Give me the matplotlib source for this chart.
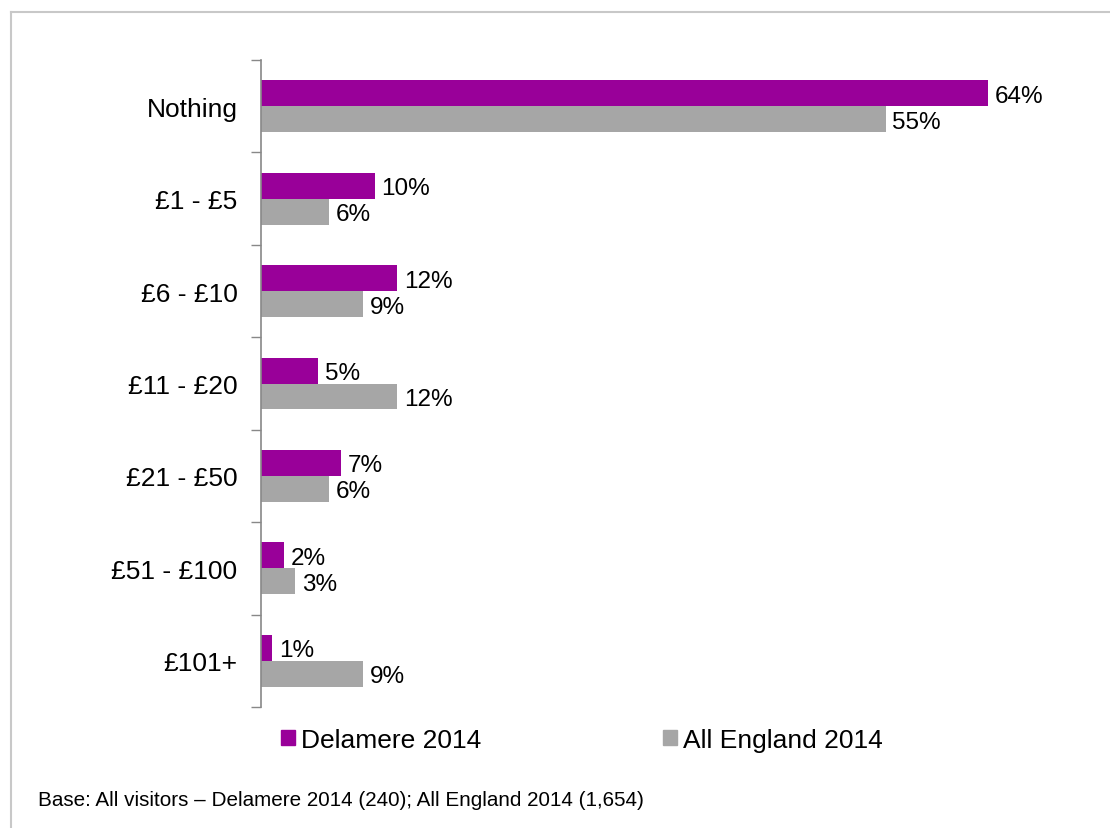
import matplotlib.pyplot as plt
import numpy as np
from matplotlib.lines import Line2D
from matplotlib.patches import Patch

# Spend bands and percentage of visitors in each
categories = ['Nothing', '£1 - £5', '£6 - £10', '£11 - £20', '£21 - £50', '£51 - £100', '£101+']
delamere_2014 = [64, 10, 12, 5, 7, 2, 1]
england_2014 = [55, 6, 9, 12, 6, 3, 9]
series_names = ['Delamere 2014', 'All England 2014']
footnote = 'Base: All visitors \u2013 Delamere 2014 (240); All England 2014 (1,654)'

PURPLE = '#990099'
GREY = '#a6a6a6'

plt.rcParams['font.family'] = ['Liberation Sans', 'DejaVu Sans']

W, H = 1110, 829
fig = plt.figure(figsize=(W / 100, H / 100), dpi=100)
ax = fig.add_axes([261 / W, 1 - 708 / H, (1056 - 261) / W, (708 - 61) / H])

y = np.arange(len(categories))
bar_h = 0.28
ax.barh(y - bar_h / 2, delamere_2014, height=bar_h, color=PURPLE, label=series_names[0])
ax.barh(y + bar_h / 2, england_2014, height=bar_h, color=GREY, label=series_names[1])

# value labels at the end of each bar
for i in range(len(categories)):
    ax.text(delamere_2014[i] + 0.6, y[i] - bar_h / 2, f'{delamere_2014[i]}%',
            va='center_baseline', ha='left', fontsize=17.5)
    ax.text(england_2014[i] + 0.6, y[i] + bar_h / 2, f'{england_2014[i]}%',
            va='center_baseline', ha='left', fontsize=17.5)

ax.set_xlim(0, 70)
ax.set_ylim(len(categories) - 0.5, -0.5)
ax.set_yticks(y)
ax.set_yticklabels(categories, fontsize=19)
ax.tick_params(axis='y', which='major', length=0, pad=17)
ax.set_yticks(np.arange(len(categories) + 1) - 0.5, minor=True)
ax.tick_params(axis='y', which='minor', length=7, width=1, color='#888888', direction='out')
ax.set_xticks([])
for side in ['top', 'right', 'bottom']:
    ax.spines[side].set_visible(False)
ax.spines['left'].set_color('#888888')
ax.spines['left'].set_linewidth(1.2)

handles = [Patch(color=PURPLE), Patch(color=GREY)]
fig.legend(handles, series_names, loc='center left', bbox_to_anchor=(281 / W, 1 - 741 / H),
           ncol=2, frameon=False, fontsize=19, handlelength=0.53, handleheight=0.53,
           handletextpad=0.23, columnspacing=6.88, borderpad=0, borderaxespad=0)

fig.text(38 / W, 1 - 801 / H, footnote, fontsize=14.9, ha='left', va='center')

# thin frame along the top and left edges
fig.add_artist(Line2D([11 / W, 1], [1 - 12.5 / H, 1 - 12.5 / H], color='#c8c8c8', lw=1.5))
fig.add_artist(Line2D([11 / W, 11 / W], [0, 1 - 12.5 / H], color='#c8c8c8', lw=1.5))

fig.savefig('out.png', dpi=100)
